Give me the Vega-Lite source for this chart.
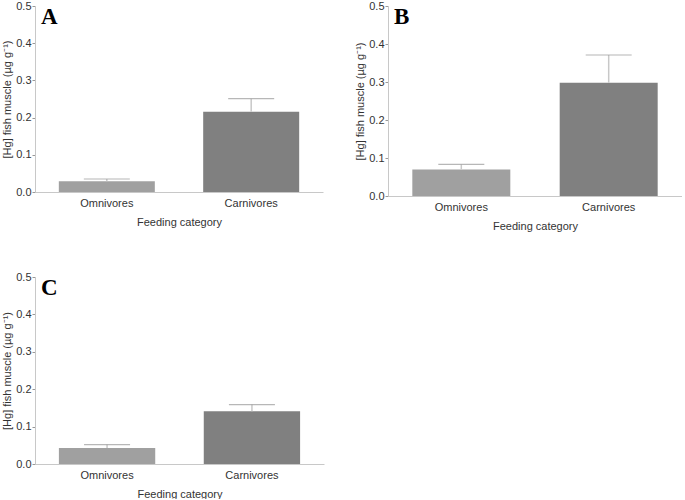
{
  "$schema": "https://vega.github.io/schema/vega-lite/v6.json",
  "padding": {"left": 1, "top": 0, "right": 0, "bottom": 0},
  "background": "white",
  "datasets": {
    "A": [
      {"category": "Omnivores", "mean": 0.029, "upper": 0.035},
      {"category": "Carnivores", "mean": 0.216, "upper": 0.251}
    ],
    "B": [
      {"category": "Omnivores", "mean": 0.070, "upper": 0.083},
      {"category": "Carnivores", "mean": 0.298, "upper": 0.371}
    ],
    "C": [
      {"category": "Omnivores", "mean": 0.043, "upper": 0.052},
      {"category": "Carnivores", "mean": 0.141, "upper": 0.159}
    ]
  },
  "vconcat": [
    {
      "hconcat": [
        {
          "width": 288, "height": 186,
          "data": {"name": "A"},
          "title": {"text": "A"},
          "layer": [
            {"mark": {"type": "bar"}, "encoding": {
              "x": {"field": "category", "type": "nominal", "sort": ["Omnivores", "Carnivores"], "scale": {"paddingInner": 0.335, "paddingOuter": 0.165}, "title": "Feeding category"},
              "y": {"field": "mean", "type": "quantitative", "scale": {"domain": [0, 0.5]}, "title": "[Hg] fish muscle (µg g⁻¹)"},
              "color": {"field": "category", "type": "nominal", "scale": {"domain": ["Omnivores", "Carnivores"], "range": ["#a0a0a0", "#808080"]}, "legend": null}
            }},
            {"mark": {"type": "rule", "color": "#c8c8c8", "strokeWidth": 1.5}, "encoding": {
              "x": {"field": "category", "type": "nominal", "sort": ["Omnivores", "Carnivores"]},
              "y": {"field": "mean", "type": "quantitative"},
              "y2": {"field": "upper"}
            }},
            {"mark": {"type": "tick", "color": "#999999", "size": 46, "thickness": 1.2}, "encoding": {
              "x": {"field": "category", "type": "nominal", "sort": ["Omnivores", "Carnivores"]},
              "y": {"field": "upper", "type": "quantitative"}
            }}
          ]
        },
        {
          "width": 294, "height": 190,
          "data": {"name": "B"},
          "title": {"text": "B"},
          "layer": [
            {"mark": {"type": "bar"}, "encoding": {
              "x": {"field": "category", "type": "nominal", "sort": ["Omnivores", "Carnivores"], "scale": {"paddingInner": 0.335, "paddingOuter": 0.165}, "title": "Feeding category"},
              "y": {"field": "mean", "type": "quantitative", "scale": {"domain": [0, 0.5]}, "title": "[Hg] fish muscle (µg g⁻¹)"},
              "color": {"field": "category", "type": "nominal", "scale": {"domain": ["Omnivores", "Carnivores"], "range": ["#a0a0a0", "#808080"]}, "legend": null}
            }},
            {"mark": {"type": "rule", "color": "#c8c8c8", "strokeWidth": 1.5}, "encoding": {
              "x": {"field": "category", "type": "nominal", "sort": ["Omnivores", "Carnivores"]},
              "y": {"field": "mean", "type": "quantitative"},
              "y2": {"field": "upper"}
            }},
            {"mark": {"type": "tick", "color": "#999999", "size": 46, "thickness": 1.2}, "encoding": {
              "x": {"field": "category", "type": "nominal", "sort": ["Omnivores", "Carnivores"]},
              "y": {"field": "upper", "type": "quantitative"}
            }}
          ]
        }
      ]
    },
    {
      "width": 289, "height": 187,
      "data": {"name": "C"},
      "title": {"text": "C"},
      "layer": [
        {"mark": {"type": "bar"}, "encoding": {
          "x": {"field": "category", "type": "nominal", "sort": ["Omnivores", "Carnivores"], "scale": {"paddingInner": 0.335, "paddingOuter": 0.165}, "title": "Feeding category"},
          "y": {"field": "mean", "type": "quantitative", "scale": {"domain": [0, 0.5]}, "title": "[Hg] fish muscle (µg g⁻¹)"},
          "color": {"field": "category", "type": "nominal", "scale": {"domain": ["Omnivores", "Carnivores"], "range": ["#a0a0a0", "#808080"]}, "legend": null}
        }},
        {"mark": {"type": "rule", "color": "#c8c8c8", "strokeWidth": 1.5}, "encoding": {
          "x": {"field": "category", "type": "nominal", "sort": ["Omnivores", "Carnivores"]},
          "y": {"field": "mean", "type": "quantitative"},
          "y2": {"field": "upper"}
        }},
        {"mark": {"type": "tick", "color": "#999999", "size": 46, "thickness": 1.2}, "encoding": {
          "x": {"field": "category", "type": "nominal", "sort": ["Omnivores", "Carnivores"]},
          "y": {"field": "upper", "type": "quantitative"}
        }}
      ]
    }
  ],
  "spacing": 40,
  "config": {
    "concat": {"spacing": 31},
    "view": {"stroke": null},
    "font": "Liberation Sans",
    "title": {"font": "Liberation Serif", "fontWeight": "bold", "fontSize": 23, "color": "#000000", "anchor": "start", "frame": "group", "dx": 6, "offset": -29, "baseline": "alphabetic"},
    "axis": {"labelFont": "Liberation Sans", "titleFont": "Liberation Sans", "labelFontSize": 11, "titleFontSize": 11, "labelColor": "#333333", "titleColor": "#333333", "titleFontWeight": "normal", "domainColor": "#c8c8c8", "grid": false},
    "axisX": {"labelAngle": 0, "ticks": false, "labelPadding": 5, "titlePadding": 8},
    "axisY": {"values": [0, 0.1, 0.2, 0.3, 0.4, 0.5], "format": ".1f", "tickColor": "#999999", "tickSize": 3, "labelPadding": 1, "titlePadding": 3}
  }
}
